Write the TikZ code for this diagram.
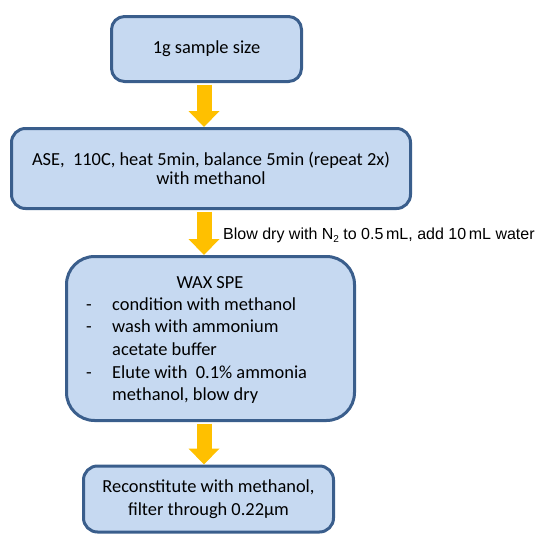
\documentclass[tikz,border=0pt]{standalone}
\usepackage{fontspec}
\setmainfont{Carlito}
\newfontfamily\arialfont{Liberation Sans}
\usetikzlibrary{arrows.meta}
\definecolor{boxfill}{HTML}{C6D9F1}
\definecolor{boxline}{HTML}{3A5E8C}
\definecolor{arrowcol}{HTML}{FFC000}
\definecolor{txt}{HTML}{000000}
\tikzset{
  stepbox/.style={draw=boxline, fill=boxfill, line width=3pt, inner sep=0pt,
    align=center, text=txt, font=\fontsize{18.4}{19}\selectfont},
  flowarrow/.style={draw=arrowcol, line width=15pt,
    -{Triangle[width=31pt,length=16pt,line width=0pt]}, shorten <=1.5pt},
  boxtext/.style={inner sep=0pt, text=txt, font=\fontsize{18.4}{22.7}\selectfont},
}
\begin{document}
\begin{tikzpicture}[x=1pt,y=-1pt]
\useasboundingbox (0,0) rectangle (542,538);
\coordinate (ax) at (204,0);
% boxes
\node[stepbox, rounded corners=13pt, minimum width=190pt, minimum height=65pt] (b1) at (206.5,49) {1g sample size};
\node[stepbox, rounded corners=14pt, minimum width=399pt, minimum height=80pt] (b2) at (211,168.5)
  {ASE,\ \ 110C, heat 5min, balance 5min (repeat 2x)\\with methanol};
\node[stepbox, rounded corners=28pt, minimum width=288pt, minimum height=164pt] (b3) at (210.5,338.5) {};
\node[stepbox, rounded corners=14pt, minimum width=250pt, minimum height=66pt, font=\fontsize{18.4}{22.5}\selectfont] (b4) at (208.5,499)
  {Reconstitute with methanol,\\filter through 0.22μm};
% box 3 text
\node[boxtext] (t3) at (210,283) {WAX SPE};
\node[boxtext, anchor=west] (l3) at (86,351) {%
  \begin{tabular}{@{}p{26pt}@{}l@{}}
  - & condition with methanol\\
  - & wash with ammonium\\
    & acetate buffer\\
  - & Elute with\ \ 0.1\% ammonia\\
    & methanol, blow dry
  \end{tabular}};
% arrows
\draw[flowarrow] (b1.south -| ax) -- (b2.north -| ax);
\draw[flowarrow] (b2.south -| ax) -- (b3.north -| ax);
\draw[flowarrow] (b3.south -| ax) -- (b4.north -| ax);
% label
\node[anchor=base west, inner sep=0pt, text=black, font=\arialfont\fontsize{16}{16}\selectfont] (lbl) at (223,239)
  {Blow dry with N\raisebox{-3.5pt}{\fontsize{10}{10}\selectfont 2} to 0.5\,mL, add 10\,mL water};
\end{tikzpicture}
\end{document}
